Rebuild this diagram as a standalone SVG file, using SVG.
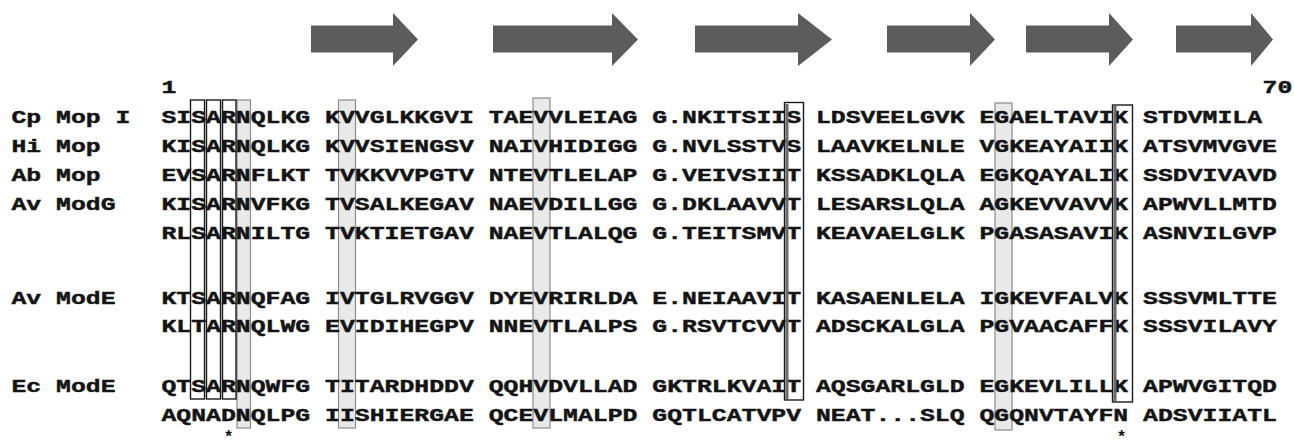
<svg xmlns="http://www.w3.org/2000/svg" width="1294" height="447" viewBox="0 0 1294 447">
<style>
.t{font-family:"Liberation Mono","Courier New",monospace;font-weight:bold;font-size:19px;fill:#141414;stroke:#141414;stroke-width:0.45}
.ast{font-family:"Liberation Mono","Courier New",monospace;font-weight:bold;font-size:17px;fill:#141414}
.arr{fill:#5c5c5c}
.gb{fill:#e9e9e9;stroke:#8c8c8c;stroke-width:1.2}
.bb{fill:none;stroke:#1a1a1a;stroke-width:1.4}
.bl{stroke:#6a6a6a;stroke-width:3;fill:none}
</style>
<rect width="1294" height="447" fill="#ffffff"/>
<g id="strands">
<polygon class="arr" points="311,25.5 393,25.5 393,13 418,39.5 393,66 393,52.5 311,52.5"/>
<polygon class="arr" points="493,25.5 612,25.5 612,13 638,39.5 612,66 612,52.5 493,52.5"/>
<polygon class="arr" points="695,25.5 798,25.5 798,13 832,39.5 798,66 798,52.5 695,52.5"/>
<polygon class="arr" points="887,25.5 970,25.5 970,13 995,39.5 970,66 970,52.5 887,52.5"/>
<polygon class="arr" points="1026,25.5 1109,25.5 1109,13 1133,39.5 1109,66 1109,52.5 1026,52.5"/>
<polygon class="arr" points="1176,25.5 1251,25.5 1251,13 1273,39.5 1251,66 1251,52.5 1176,52.5"/>
</g>
<g id="shaded-columns">
<rect class="gb" x="237" y="100" width="13.5" height="328"/>
<rect class="gb" x="338.5" y="100" width="17" height="328"/>
<rect class="gb" x="533" y="98" width="17" height="330"/>
<rect class="gb" x="995" y="103" width="17" height="327"/>
</g>
<g id="labels" class="t" transform="translate(11.5 0) scale(1.305 1)">
<text x="0" y="123">Cp Mop I</text>
<text x="0" y="152">Hi Mop</text>
<text x="0" y="181">Ab Mop</text>
<text x="0" y="210">Av ModG</text>
<text x="0" y="304">Av ModE</text>
<text x="0" y="392.5">Ec ModE</text>
</g>
<g id="sequences" class="t" transform="translate(161.5 0) scale(1.305 1)">
<text x="0" y="93">1</text>
<text x="843.7" y="93">70</text>
<text x="0" y="123">SISARNQLKG KVVGLKKGVI TAEVVLEIAG G.NKITSIIS LDSVEELGVK EGAELTAVIK STDVMILA</text>
<text x="0" y="152">KISARNQLKG KVVSIENGSV NAIVHIDIGG G.NVLSSTVS LAAVKELNLE VGKEAYAIIK ATSVMVGVE</text>
<text x="0" y="181">EVSARNFLKT TVKKVVPGTV NTEVTLELAP G.VEIVSIIT KSSADKLQLA EGKQAYALIK SSDVIVAVD</text>
<text x="0" y="210">KISARNVFKG TVSALKEGAV NAEVDILLGG G.DKLAAVVT LESARSLQLA AGKEVVAVVK APWVLLMTD</text>
<text x="0" y="239">RLSARNILTG TVKTIETGAV NAEVTLALQG G.TEITSMVT KEAVAELGLK PGASASAVIK ASNVILGVP</text>
<text x="0" y="304">KTSARNQFAG IVTGLRVGGV DYEVRIRLDA E.NEIAAVIT KASAENLELA IGKEVFALVK SSSVMLTTE</text>
<text x="0" y="332.5">KLTARNQLWG EVIDIHEGPV NNEVTLALPS G.RSVTCVVT ADSCKALGLA PGVAACAFFK SSSVILAVY</text>
<text x="0" y="392.5">QTSARNQWFG TITARDHDDV QQHVDVLLAD GKTRLKVAIT AQSGARLGLD EGKEVLILLK APWVGITQD</text>
<text x="0" y="421.5">AQNADNQLPG IISHIERGAE QCEVLMALPD GQTLCATVPV NEAT...SLQ QGQNVTAYFN ADSVIIATL</text>
</g>
<g id="boxed-columns">
<rect class="bb" x="190.5" y="100" width="14" height="299"/>
<rect class="bb" x="206.5" y="100" width="14" height="299"/>
<rect class="bb" x="222.5" y="100" width="13.5" height="299"/>
<line class="bl" x1="787" y1="104" x2="787" y2="399"/>
<rect class="bb" x="784.5" y="102.5" width="19" height="297.5"/>
<line class="bl" x1="1115" y1="106" x2="1115" y2="401"/>
<rect class="bb" x="1112.5" y="105" width="20" height="297"/>
</g>
<g id="marks" class="ast">
<text x="223.5" y="442">*</text>
<text x="1116.5" y="442">*</text>
</g>
</svg>
